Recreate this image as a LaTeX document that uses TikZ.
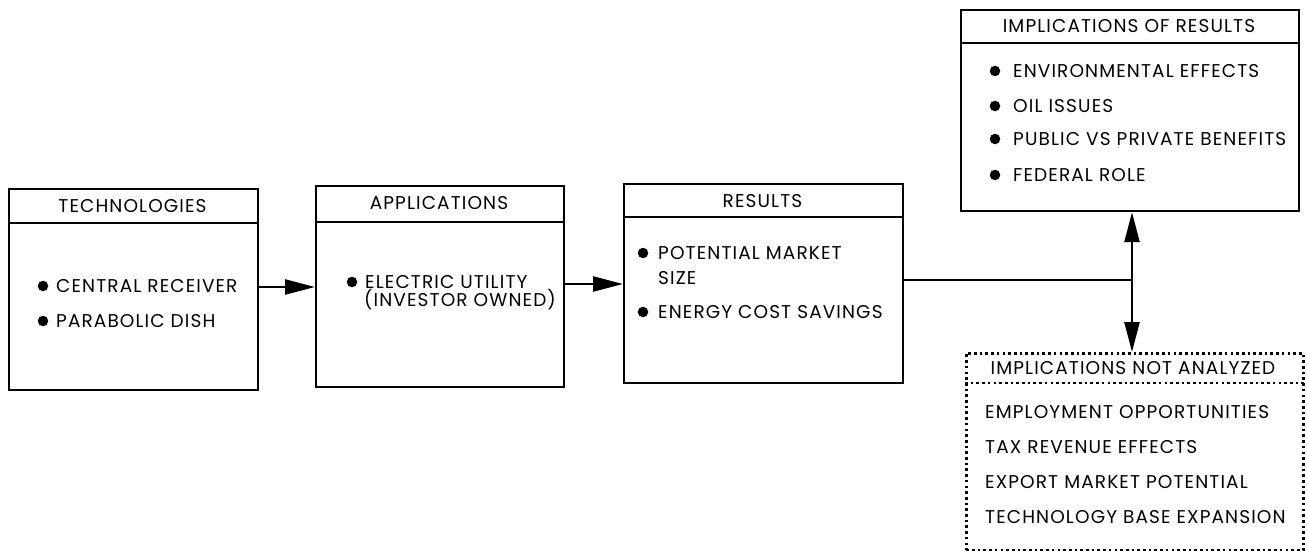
\documentclass[tikz,border=0pt]{standalone}
\usepackage{fontspec}
\setmainfont{Poppins}[LetterSpace=6]
\usetikzlibrary{arrows.meta}
\begin{document}
\begin{tikzpicture}[x=1pt,y=-1pt,
  box/.style={draw,line width=2.2pt,inner sep=0pt,anchor=north west},
  dbox/.style={draw,line width=2.6pt,dash pattern=on 2.6pt off 3.1pt,inner sep=0pt,anchor=north west},
  hline/.style={line width=2.2pt},
  dline/.style={line width=2.6pt,dash pattern=on 2.6pt off 3.1pt},
  hd/.style={font=\fontsize{18.5}{22}\selectfont,inner sep=0pt},
  txt/.style={font=\fontsize{18.5}{22}\selectfont,inner sep=0pt,anchor=base west},
  bul/.style={circle,fill,inner sep=0pt,minimum size=10.5pt},
  arr/.style={line width=2.5pt,-{Triangle[length=30pt,width=15pt]}},
  conn/.style={line width=2.5pt}]
\useasboundingbox (0,0) rectangle (1307,551);
% TECHNOLOGIES
\node[box,minimum width=249pt,minimum height=201pt] (tech) at (8,188) {};
\draw[hline] (tech.west |- 0,223) -- (tech.east |- 0,223);
\node[hd] (techh) at (132.5,206) {TECHNOLOGIES};
\node[bul] (tb1) at (43,286) {};
\node[txt] (tt1) at (56,292.5) {CENTRAL RECEIVER};
\node[bul] (tb2) at (43,321) {};
\node[txt] (tt2) at (56,327.5) {PARABOLIC DISH};
% APPLICATIONS
\node[box,minimum width=248pt,minimum height=201pt] (app) at (315,185) {};
\draw[hline] (app.west |- 0,222) -- (app.east |- 0,222);
\node[hd] (apph) at (439,203) {APPLICATIONS};
\node[bul] (ab1) at (352,282) {};
\node[txt] (at1) at (365,288) {ELECTRIC UTILITY};
\node[txt] (at2) at (364,306) {(INVESTOR OWNED)};
% RESULTS
\node[box,minimum width=279pt,minimum height=199pt] (res) at (623,183) {};
\draw[hline] (res.west |- 0,217) -- (res.east |- 0,217);
\node[hd] (resh) at (762.5,201) {RESULTS};
\node[bul] (rb1) at (643,253) {};
\node[txt] (rt1) at (658,259.5) {POTENTIAL MARKET};
\node[txt] (rt2) at (658,284.5) {SIZE};
\node[bul] (rb2) at (643,312) {};
\node[txt] (rt3) at (658,318.5) {ENERGY COST SAVINGS};
% IMPLICATIONS OF RESULTS
\node[box,minimum width=338pt,minimum height=201pt] (imp) at (960,9) {};
\draw[hline] (imp.west |- 0,43) -- (imp.east |- 0,43);
\node[hd] (imph) at (1129,26) {IMPLICATIONS OF RESULTS};
\node[bul] (ib1) at (995,71) {};
\node[txt] (it1) at (1013,77.5) {ENVIRONMENTAL EFFECTS};
\node[bul] (ib2) at (995,106) {};
\node[txt] (it2) at (1013,112.5) {OIL ISSUES};
\node[bul] (ib3) at (995,139) {};
\node[txt] (it3) at (1013,145.5) {PUBLIC VS PRIVATE BENEFITS};
\node[bul] (ib4) at (995,175) {};
\node[txt] (it4) at (1013,181.5) {FEDERAL ROLE};
% IMPLICATIONS NOT ANALYZED
\node[dbox,minimum width=337pt,minimum height=197pt] (nan) at (965,352) {};
\draw[dline] (nan.west |- 0,383) -- (nan.east |- 0,383);
\node[hd] (nanh) at (1133,368) {IMPLICATIONS NOT ANALYZED};
\node[txt] (nt1) at (985,418.5) {EMPLOYMENT OPPORTUNITIES};
\node[txt] (nt2) at (985,453.5) {TAX REVENUE EFFECTS};
\node[txt] (nt3) at (985,488.5) {EXPORT MARKET POTENTIAL};
\node[txt] (nt4) at (985,523.5) {TECHNOLOGY BASE EXPANSION};
% connectors
\coordinate (a1) at (0,287);
\coordinate (a2) at (0,284);
\coordinate (j) at (1132,280);
\draw[arr] (a1 -| tech.east) -- (a1 -| app.west);
\draw[arr] (a2 -| app.east) -- (a2 -| res.west);
\draw[conn] (res.east |- j) -- (j);
\draw[arr] (j) -- (j |- imp.south);
\draw[arr] (j) -- (j |- nan.north);
\end{tikzpicture}
\end{document}
